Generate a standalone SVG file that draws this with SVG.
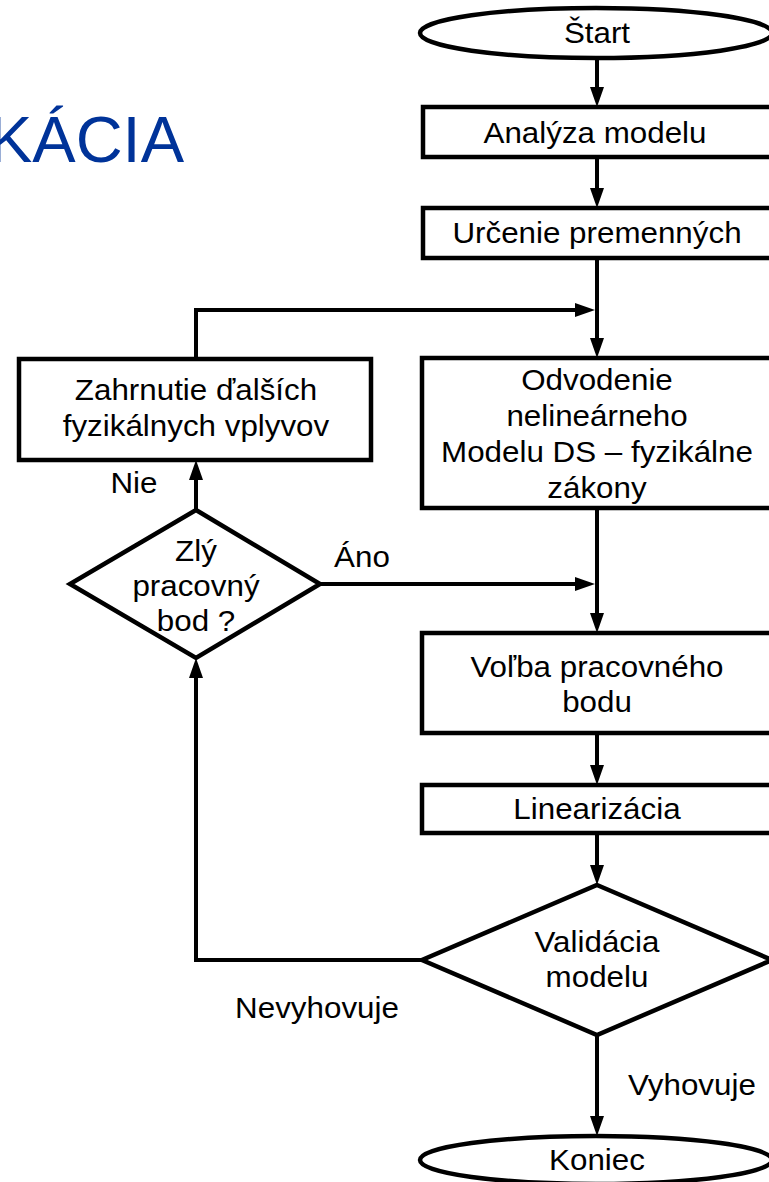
<svg xmlns="http://www.w3.org/2000/svg" width="769" height="1182" viewBox="0 0 769 1182">
  <style>
    .shape { fill: #fff; stroke: #000; stroke-width: 4.5; }
    .conn { fill: none; stroke: #000; stroke-width: 4; }
    .t { font-family: "Liberation Sans", Arial, sans-serif; font-size: 30px; fill: #000; text-anchor: middle;
         transform-box: fill-box; transform-origin: center; transform: scaleX(1.045); }
    .title { font-family: "Liberation Sans", Arial, sans-serif; font-size: 65px; fill: #003399; text-anchor: end; }
  </style>
  <defs>
    <marker id="arrow" markerUnits="userSpaceOnUse" markerWidth="22" markerHeight="16" refX="10" refY="7" orient="auto">
      <path d="M0,0 L20,7 L0,14 Z" fill="#000"/>
    </marker>
  </defs>
  <rect width="769" height="1182" fill="#fff"/>

  <text class="title" x="184" y="162">KÁCIA</text>

  <!-- connectors (paths end 10px short of the tip; marker supplies the head) -->
  <g id="connectors">
    <path class="conn" d="M597,58 V97" marker-end="url(#arrow)"/>
    <path class="conn" d="M597,157 V198" marker-end="url(#arrow)"/>
    <path class="conn" d="M597,258 V348" marker-end="url(#arrow)"/>
    <path class="conn" d="M196,359 V310 H585" marker-end="url(#arrow)"/>
    <path class="conn" d="M597,508 V623" marker-end="url(#arrow)"/>
    <path class="conn" d="M320,584 H585" marker-end="url(#arrow)"/>
    <path class="conn" d="M196,510 V470" marker-end="url(#arrow)"/>
    <path class="conn" d="M597,733 V775" marker-end="url(#arrow)"/>
    <path class="conn" d="M597,833 V875" marker-end="url(#arrow)"/>
    <path class="conn" d="M422,960 H196 V668" marker-end="url(#arrow)"/>
    <path class="conn" d="M597,1035 V1126" marker-end="url(#arrow)"/>
  </g>

  <g id="start">
    <ellipse class="shape" cx="596" cy="33" rx="176" ry="25"/>
    <text class="t" x="597" y="43">Štart</text>
  </g>
  <g id="analyza">
    <rect class="shape" x="423" y="107" width="352" height="50"/>
    <text class="t" x="595" y="143">Analýza modelu</text>
  </g>
  <g id="urcenie">
    <rect class="shape" x="423" y="208" width="352" height="50"/>
    <text class="t" x="597" y="243">Určenie premenných</text>
  </g>
  <g id="odvodenie">
    <rect class="shape" x="422" y="358" width="353" height="150"/>
    <text class="t" x="597" y="390">Odvodenie</text>
    <text class="t" x="597" y="426">nelineárneho</text>
    <text class="t" x="597" y="462">Modelu DS – fyzikálne</text>
    <text class="t" x="597" y="498">zákony</text>
  </g>
  <g id="zahrnutie">
    <rect class="shape" x="19" y="359" width="352" height="101"/>
    <text class="t" x="196" y="400">Zahrnutie ďalších</text>
    <text class="t" x="196" y="436">fyzikálnych vplyvov</text>
  </g>
  <g id="zly-bod">
    <polygon class="shape" points="196,510 320,584 196,658 70,584"/>
    <text class="t" x="196" y="561">Zlý</text>
    <text class="t" x="196" y="596">pracovný</text>
    <text class="t" x="196" y="631">bod ?</text>
  </g>
  <g id="volba">
    <rect class="shape" x="422" y="633" width="353" height="100"/>
    <text class="t" x="597" y="677">Voľba pracovného</text>
    <text class="t" x="597" y="712">bodu</text>
  </g>
  <g id="linearizacia">
    <rect class="shape" x="422" y="785" width="353" height="48"/>
    <text class="t" x="597" y="819">Linearizácia</text>
  </g>
  <g id="validacia">
    <polygon class="shape" points="597,885 772,960 597,1035 422,960"/>
    <text class="t" x="597" y="952">Validácia</text>
    <text class="t" x="597" y="987">modelu</text>
  </g>
  <g id="koniec">
    <ellipse class="shape" cx="596" cy="1160" rx="176" ry="24"/>
    <text class="t" x="597" y="1170">Koniec</text>
  </g>

  <g id="labels">
    <text class="t" x="134" y="493">Nie</text>
    <text class="t" x="362" y="567">Áno</text>
    <text class="t" x="317" y="1018">Nevyhovuje</text>
    <text class="t" x="692" y="1095">Vyhovuje</text>
  </g>
</svg>
